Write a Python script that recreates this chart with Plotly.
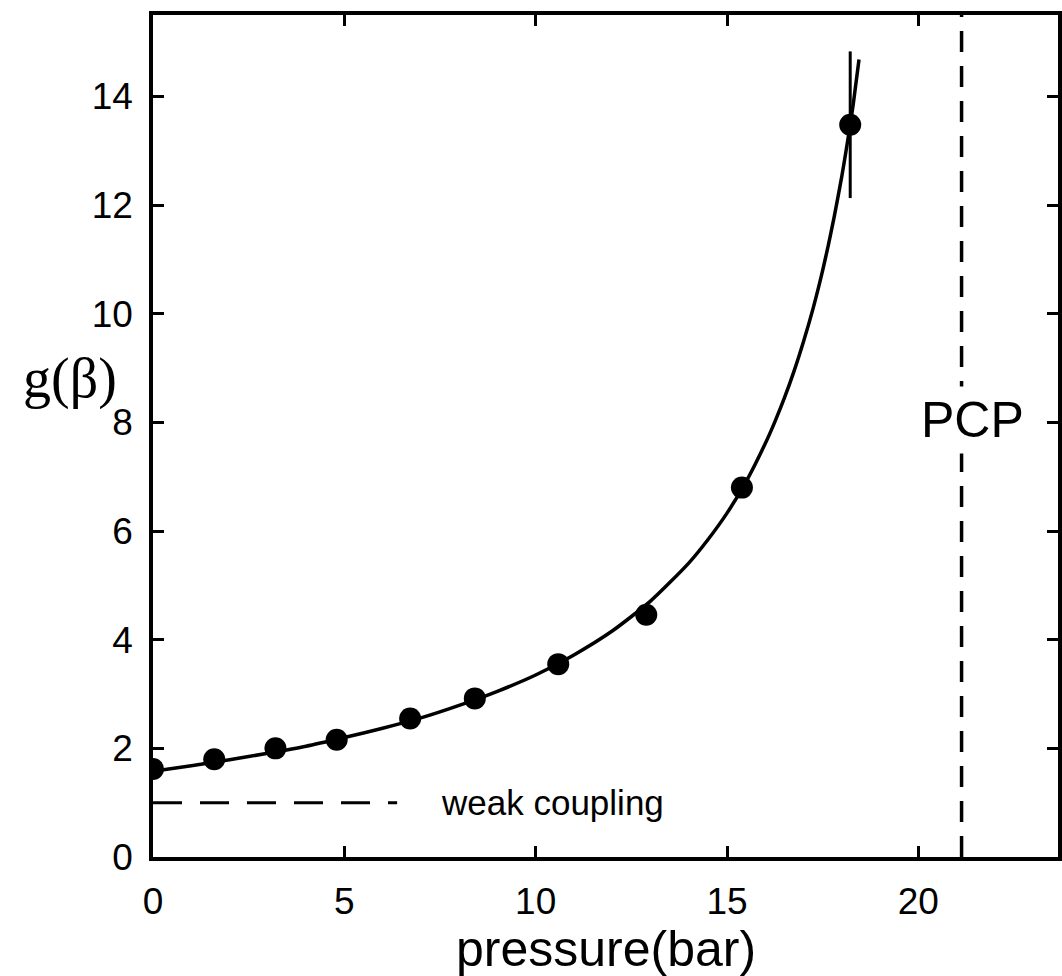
import plotly.graph_objects as go

# measured points
pressure = [0.0, 1.6, 3.2, 4.8, 6.72, 8.41, 10.59, 12.89, 15.39, 18.22]
g_beta = [1.62, 1.80, 2.00, 2.16, 2.55, 2.92, 3.55, 4.46, 6.80, 13.48]
g_err = [0, 0, 0, 0, 0, 0, 0, 0, 0, 1.35]

# fitted curve
fit_p = [0, 1, 2, 3, 4, 5, 6, 7, 8, 9, 10, 11, 12, 13, 14, 14.5, 15, 15.5, 16, 16.25, 16.5, 16.75,
         17, 17.25, 17.5, 17.65, 17.8, 18.0, 18.1, 18.2, 18.3, 18.45]
fit_g = [1.58, 1.68, 1.79, 1.91, 2.04, 2.20, 2.37, 2.56, 2.79, 3.05, 3.35, 3.72, 4.16, 4.71, 5.41, 5.84,
         6.33, 6.91, 7.61, 8.01, 8.45, 8.94, 9.49, 10.10, 10.80, 11.27, 11.78, 12.53, 12.95, 13.39, 13.86, 14.68]

weak_p = [0, 6.38]
weak_g = [1.0, 1.0]
pcp_p = [21.13, 21.13]
pcp_g = [0, 15.5]

x_ticks = [0, 5, 10, 15, 20]
y_ticks = [0, 2, 4, 6, 8, 10, 12, 14]

fig = go.Figure()
fig.add_trace(go.Scatter(x=weak_p, y=weak_g, mode="lines",
                         line=dict(color="black", width=3, dash="29px,18px"), showlegend=False))
fig.add_trace(go.Scatter(x=pcp_p, y=pcp_g, mode="lines",
                         line=dict(color="black", width=3.5, dash="21px,14px"), showlegend=False))
fig.add_trace(go.Scatter(x=fit_p, y=fit_g, mode="lines",
                         line=dict(color="black", width=3.5, shape="spline", smoothing=0.6),
                         showlegend=False))
fig.add_trace(go.Scatter(x=pressure, y=g_beta, mode="markers",
                         marker=dict(color="black", size=22),
                         error_y=dict(type="data", array=g_err, visible=True, color="black", thickness=3, width=0),
                         showlegend=False))

fig.add_annotation(x=10.43, y=1.0, xref="x", yref="y", text="weak coupling", showarrow=False,
                   font=dict(family="Liberation Sans, Arial", size=35, color="black"))
fig.add_annotation(x=21.42, y=8.05, xref="x", yref="y", text="PCP", showarrow=False,
                   bgcolor="white", borderpad=5,
                   font=dict(family="Liberation Sans, Arial", size=50, color="black"))
fig.add_annotation(x=-0.092, y=8.8, xref="paper", yref="y", xanchor="center", yanchor="middle",
                   text="g(β)", showarrow=False,
                   font=dict(family="Liberation Serif, Times New Roman, serif", size=56, color="black"))
fig.add_annotation(x=0.5, y=-0.109, xref="paper", yref="paper", xanchor="center", yanchor="middle",
                   text="pressure(bar)", showarrow=False,
                   font=dict(family="Liberation Sans, Arial", size=50, color="black"))

axis_common = dict(showline=True, linecolor="black", linewidth=3.5, mirror="allticks",
                   ticks="inside", ticklen=11, tickwidth=3, tickcolor="black",
                   showgrid=False, zeroline=False, automargin=False,
                   tickfont=dict(family="Liberation Sans, Arial", size=37, color="black"))

fig.update_layout(
    width=1062, height=976,
    margin=dict(l=153, r=4, t=15, b=119),
    paper_bgcolor="white", plot_bgcolor="white",
    xaxis=dict(range=[0, 23.65], tickvals=x_ticks, ticktext=[str(v) for v in x_ticks],
               ticklabelstandoff=9, **axis_common),
    yaxis=dict(range=[0, 15.5], tickvals=y_ticks, ticktext=[str(v) for v in y_ticks],
               ticklabelstandoff=9, **axis_common),
)

fig.write_html("out.html")
